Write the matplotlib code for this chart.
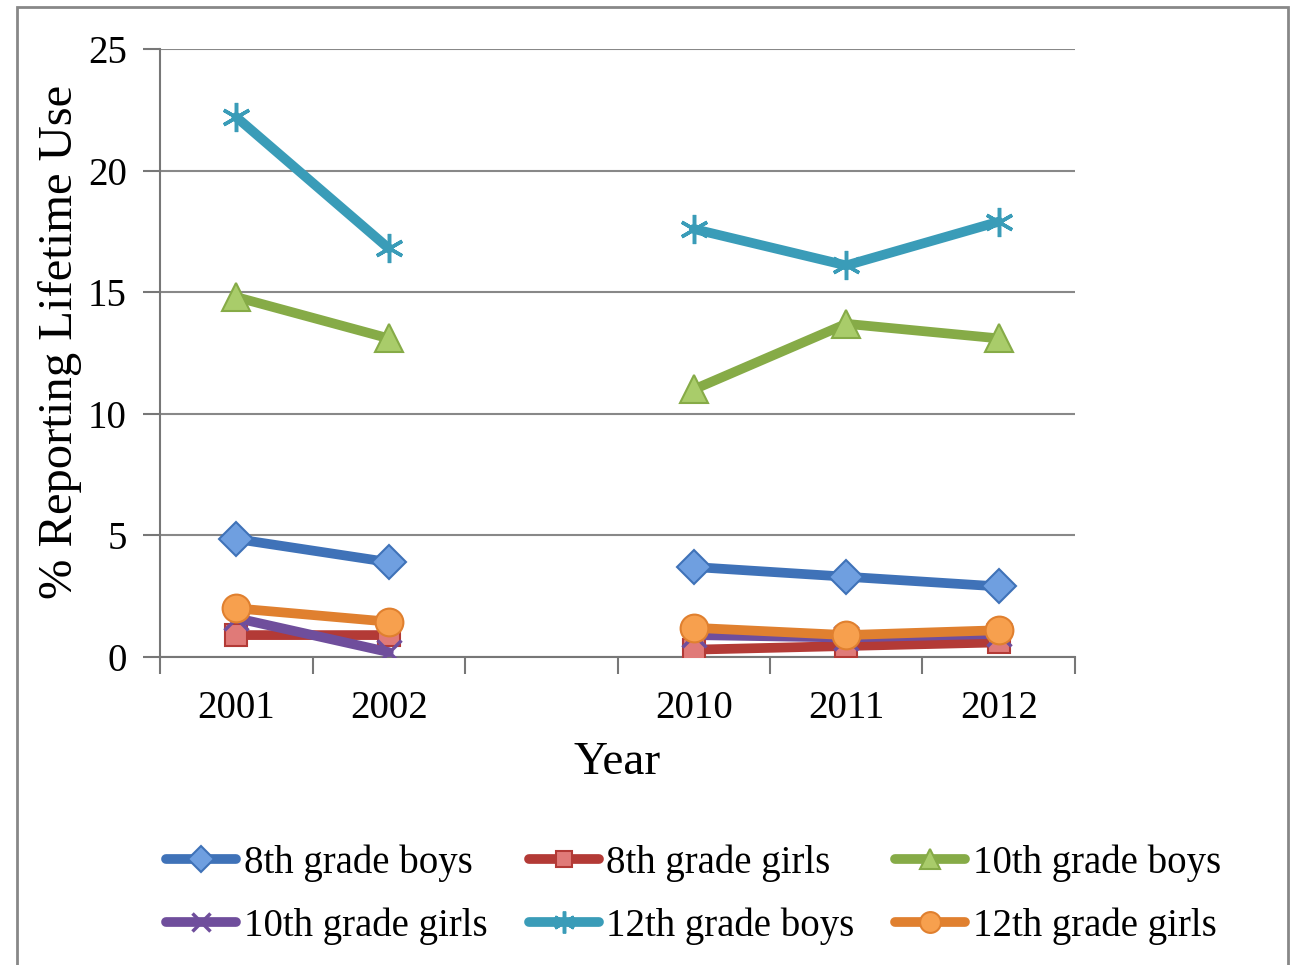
import numpy as np
import matplotlib.pyplot as plt
from matplotlib.patches import Rectangle

plt.rcParams['font.family'] = ['Liberation Serif', 'DejaVu Serif']

# survey years; the empty slot separates the two survey periods
years = ['2001', '2002', '', '2010', '2011', '2012']

boys8 = [4.85, 3.9, np.nan, 3.7, 3.3, 2.9]
girls8 = [0.9, 0.9, np.nan, 0.3, 0.45, 0.6]
boys10 = [14.8, 13.1, np.nan, 11.0, 13.7, 13.1]
girls10 = [1.6, 0.2, np.nan, 0.9, 0.8, 0.95]
boys12 = [22.2, 16.8, np.nan, 17.6, 16.1, 17.9]
girls12 = [2.0, 1.45, np.nan, 1.2, 0.9, 1.1]

series = [
    ('8th grade boys', boys8, '#3f72b8', '#6f9fe0', 'D', 17),
    ('8th grade girls', girls8, '#b33a36', '#e07a78', 's', 16),
    ('10th grade boys', boys10, '#86ab47', '#a9cc6a', '^', 20),
    ('10th grade girls', girls10, '#6f4e9c', '#6f4e9c', 'x', 17),
    ('12th grade boys', boys12, '#3a9cb8', '#3a9cb8', (6, 2, 0), 21),
    ('12th grade girls', girls12, '#e0802f', '#f7a04e', 'o', 20),
]

fig = plt.figure(figsize=(12.97, 9.65), dpi=100)
ax = fig.add_axes([0.1234, 0.3192, 0.7054, 0.63])

x = np.arange(len(years))
handles = {}
for name, vals, lc, fc, mk, ms in series:
    thin = mk == 'x' or isinstance(mk, tuple)
    h, = ax.plot(x, vals, color=lc, lw=7, marker=mk, ms=ms,
                 mfc=fc, mec=lc, mew=2.5 if thin else 1.5,
                 label=name, solid_capstyle='round', zorder=3)
    handles[name] = h

ax.set_xlim(-0.5, len(years) - 0.5)
ax.set_ylim(0, 25)
ax.set_yticks(np.arange(0, 26, 5))
ax.set_xticks(x[[0, 1, 3, 4, 5]])
ax.set_xticklabels([years[i] for i in (0, 1, 3, 4, 5)])
ax.set_xticks(np.arange(-0.5, len(years), 1), minor=True)
ax.tick_params(axis='x', which='major', length=0, pad=24, labelsize=28)
ax.tick_params(axis='x', which='minor', length=12, width=1.5, color='#777777',
               direction='out')
ax.tick_params(axis='y', length=12, width=1.5, color='#777777',
               direction='out', labelsize=28, pad=12)
ax.grid(axis='y', color='#888888', lw=1.5, zorder=0)

for s in ('top', 'right'):
    ax.spines[s].set_visible(False)
for s in ('left', 'bottom'):
    ax.spines[s].set_color('#777777')
    ax.spines[s].set_linewidth(1.5)

ax.set_xlabel('Year', fontsize=34, labelpad=10)
ax.set_ylabel('% Reporting Lifetime Use', fontsize=35)
ax.yaxis.set_label_coords(-0.085, 0.518)

order = ['8th grade boys', '10th grade girls', '8th grade girls',
         '12th grade boys', '10th grade boys', '12th grade girls']
fig.legend([handles[n] for n in order], order, ncol=3, frameon=False,
           loc='center', bbox_to_anchor=(0.535, 0.073), fontsize=28,
           handlelength=1.8, handletextpad=0.2, columnspacing=1.05,
           labelspacing=0.67, markerscale=0.75)

fig.patches.append(Rectangle((17 / 1297, -0.01), (1288 - 17) / 1297, 1.003,
                             transform=fig.transFigure, fill=False,
                             ec='#888888', lw=2))

fig.savefig('out.png', dpi=100)
